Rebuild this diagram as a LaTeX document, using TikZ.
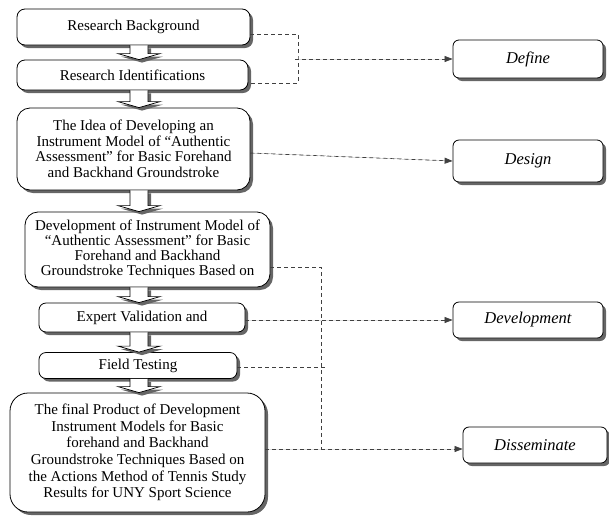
\documentclass[tikz,border=0pt]{standalone}
\usepackage{fontspec}
\setmainfont{Liberation Serif}
\usetikzlibrary{shadows,arrows.meta,calc}
\newcommand\blockarr[2]{%
  \path[barrow] let \p1=(ax |- #1.south), \p2=(ax |- #2.north) in
    (\x1-9pt,\y1) -- (\x1-9pt,\y2+6pt) -- (\x1-21pt,\y2+6pt) -- (\x1,\y2)
    -- (\x1+21pt,\y2+6pt) -- (\x1+9pt,\y2+6pt) -- (\x1+9pt,\y1);}
\begin{document}
\begin{tikzpicture}[x=1pt,y=-1pt,
  shad/.style={drop shadow={shadow xshift=3pt,shadow yshift=-3pt,fill=black!60,opacity=1}},
  box/.style={draw=black,line width=0.8pt,fill=white,rounded corners=8pt,align=center,
    inner sep=0pt,font=\fontsize{15}{15.5}\selectfont,shad},
  rbox/.style={draw=black,line width=0.8pt,fill=white,rounded corners=6pt,align=center,
    inner sep=0pt,font=\itshape\fontsize{16.5}{18}\selectfont,shad},
  barrow/.style={draw=black,line width=0.7pt,fill=white,shad},
  dline/.style={draw=black!75,line width=0.7pt,dash pattern=on 4pt off 3pt},
  arr/.style={-{Triangle[length=8pt,width=6pt]},fill=black}
]
\useasboundingbox (0,0) rectangle (609,517);
\coordinate (ax) at (139,0);
% left column
\node[box,minimum width=233pt,minimum height=36pt] (b1) at (133.5,27) {Research Background};
\node[box,minimum width=231pt,minimum height=30pt] (b2) at (132.5,75) {Research Identifications};
\node[box,rounded corners=13pt,minimum width=233pt,minimum height=82pt] (b3) at (133.5,149)
  {The Idea of Developing an\\Instrument Model of “Authentic\\Assessment” for Basic Forehand\\and Backhand Groundstroke};
\node[box,rounded corners=13pt,minimum width=245pt,minimum height=75pt,font=\fontsize{15}{15}\selectfont] (b4) at (147.5,249.5)
  {Development of Instrument Model of\\“Authentic Assessment” for Basic\\Forehand and Backhand\\Groundstroke Techniques Based on};
\node[box,rounded corners=7pt,minimum width=206pt,minimum height=29pt] (b5) at (142,317.5) {Expert Validation and};
\node[box,rounded corners=7pt,minimum width=198pt,minimum height=26pt] (b6) at (138,365.5) {Field Testing};
\node[box,rounded corners=18pt,minimum width=255pt,minimum height=119pt,font=\fontsize{15}{16.7}\selectfont] (b7) at (137.5,452.5)
  {The final Product of Development\\Instrument Models for Basic\\forehand and Backhand\\Groundstroke Techniques Based on\\the Actions Method of Tennis Study\\Results for UNY Sport Science};
% right column
\node[rbox,minimum width=150pt,minimum height=38pt] (def) at (528,59) {Define};
\node[rbox,minimum width=150pt,minimum height=42pt] (des) at (528,161) {Design};
\node[rbox,minimum width=150pt,minimum height=36pt] (dev) at (528,320) {Development};
\node[rbox,minimum width=144pt,minimum height=36pt] (dis) at (535,445) {Disseminate};
% block arrows
\blockarr{b1}{b2}
\blockarr{b2}{b3}
\blockarr{b3}{b4}
\blockarr{b4}{b5}
\blockarr{b5}{b6}
\blockarr{b6}{b7}
% dashed connectors
\coordinate (j1) at (298,59);
\draw[dline] ([yshift=-7pt]b1.east) -| (j1) |- ([yshift=-8pt]b2.east);
\draw[dline,arr] ([xshift=-3pt]j1) -- (def.west);
\draw[dline,arr] ([yshift=-4pt]b3.east) -- (des.west);
\coordinate (j2) at (321,449);
\coordinate (fe) at (326,367);
\draw[dline] ([yshift=-17.5pt]b4.east) -| (j2);
\draw[dline,arr] ([yshift=-2.5pt]b5.east) -- (dev.west);
\draw[dline] (b6.east |- fe) -- (fe);
\draw[dline,arr] (b7.east |- j2) -- (dis.west |- j2);
\end{tikzpicture}
\end{document}
